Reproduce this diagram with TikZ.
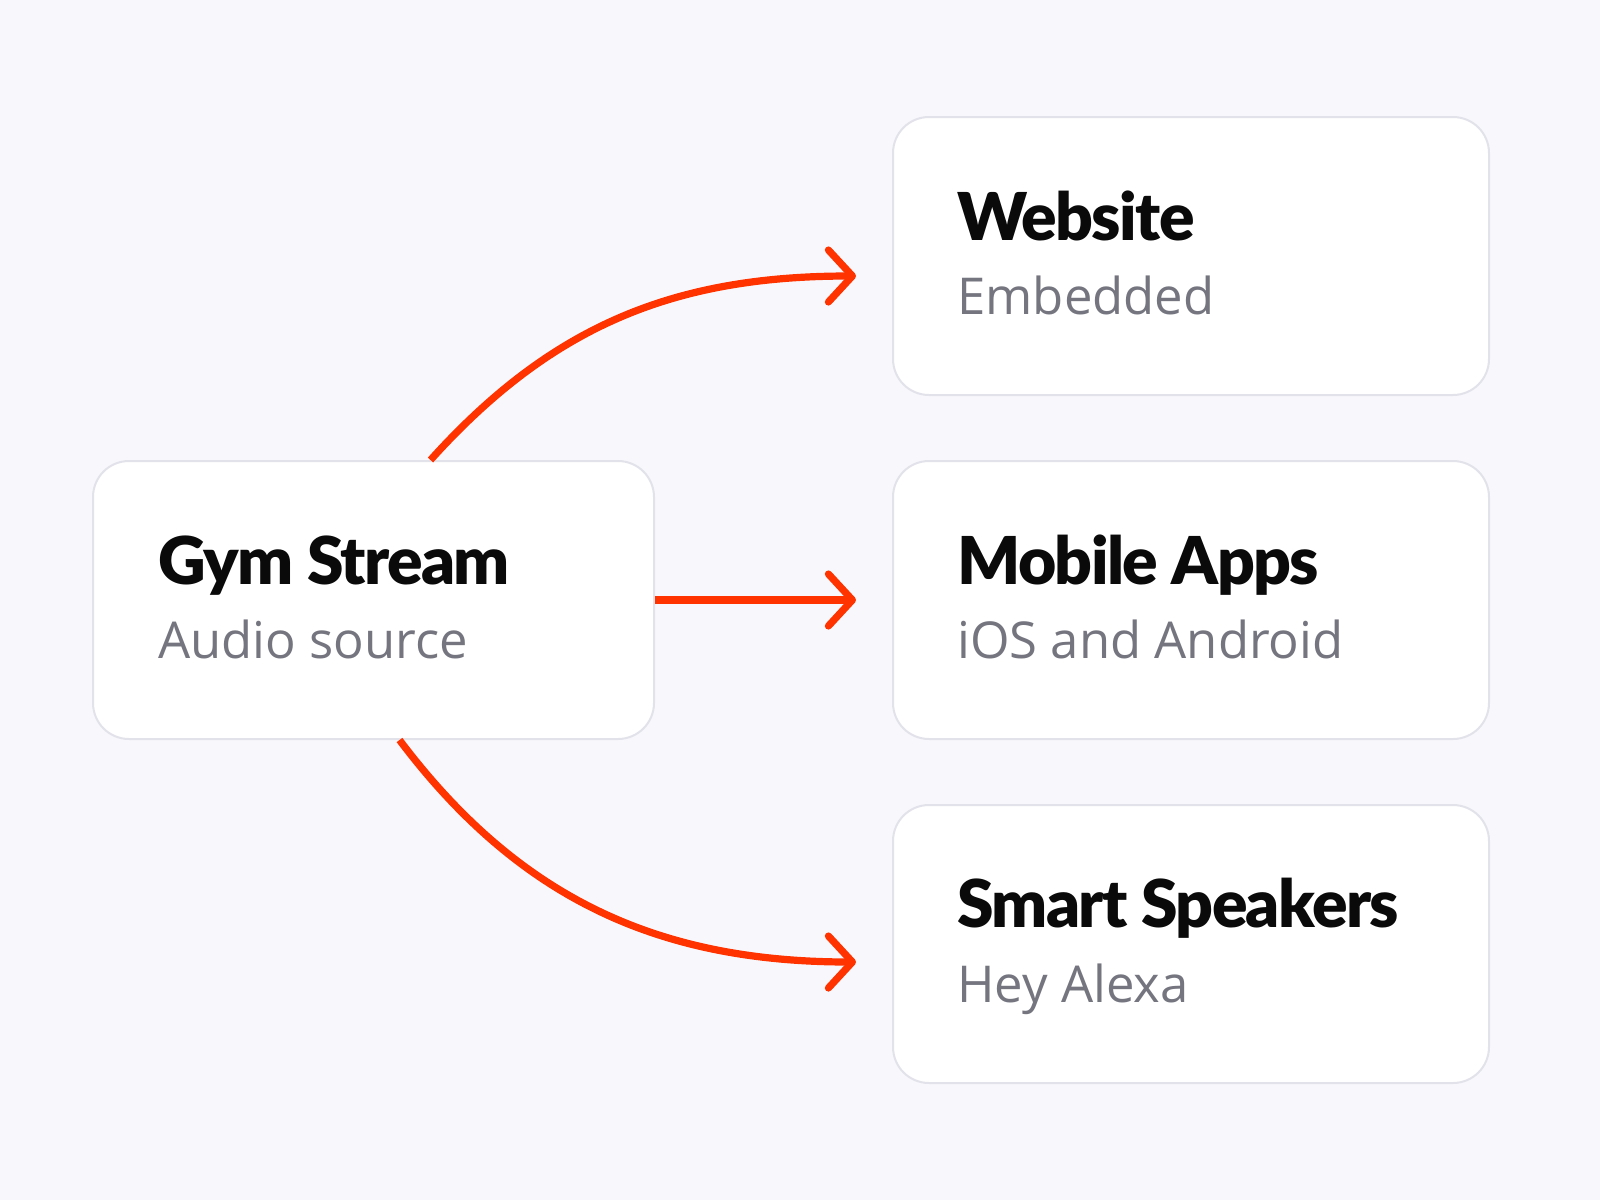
\documentclass[tikz,border=0pt]{standalone}
\usepackage{fontspec}
\setmainfont{Open Sans}
\newfontfamily\titlefont{Lato}[BoldFont={Lato Black}, LetterSpace=-2.5]
\usetikzlibrary{arrows.meta,calc}
\definecolor{bgcol}{HTML}{F8F8FC}
\definecolor{boxline}{HTML}{E2E2EA}
\definecolor{titlecol}{HTML}{0A0A0A}
\definecolor{subcol}{HTML}{74757F}
\definecolor{arrowcol}{HTML}{FF3300}
\tikzset{
  card/.style={draw=boxline, line width=1pt, fill=white, rounded corners=18pt, inner sep=0pt},
  cardtitle/.style={anchor=base west, inner sep=0pt, text=titlecol, font=\titlefont\bfseries\fontsize{33}{33}\selectfont},
  cardsub/.style={anchor=base west, inner sep=0pt, text=subcol, font=\fontsize{25.4}{25.4}\selectfont},
  flow/.style={draw=arrowcol, line width=3.6pt, -{Straight Barb[length=12pt, width=26pt, round]}}
}
\begin{document}
\begin{tikzpicture}[x=0.5pt, y=-0.5pt]
\fill[bgcol] (0,0) rectangle (1600,1200);
\useasboundingbox (0,0) rectangle (1600,1200);
% cards
\node[card, minimum width=280.5pt, minimum height=139pt] (gym) at (373.5,600) {};
\node[card, minimum width=298pt, minimum height=139pt] (web) at (1191,256) {};
\node[card, minimum width=298pt, minimum height=139pt] (mob) at (1191,600) {};
\node[card, minimum width=298pt, minimum height=139pt] (spk) at (1191,944) {};
% texts
\node[cardtitle] (gymt) at (158,584) {Gym Stream};
\node[cardsub] (gyms) at (158,658) {Audio source};
\node[cardtitle] (webt) at (957,240) {Website};
\node[cardsub] (webs) at (957,314) {Embedded};
\node[cardtitle] (mobt) at (957,584) {Mobile Apps};
\node[cardsub] (mobs) at (957,658) {iOS and Android};
\node[cardtitle] (spkt) at (957,927) {Smart Speakers};
\node[cardsub] (spks) at (957,1002) {Hey Alexa};
% arrow end points
\coordinate (webin) at (856,276);
\coordinate (mobin) at (856,600);
\coordinate (spkin) at (856,962);
\coordinate (gymtop) at ($(gym.north)+(57,0)$);
\coordinate (gymbot) at ($(gym.south)+(26,0)$);
% connectors
\draw[flow] (gymtop) to[out=48, in=180] (webin);
\draw[flow] (gym.east) -- (mobin);
\draw[flow] (gymbot) to[out=-53, in=180] (spkin);
\end{tikzpicture}
\end{document}
